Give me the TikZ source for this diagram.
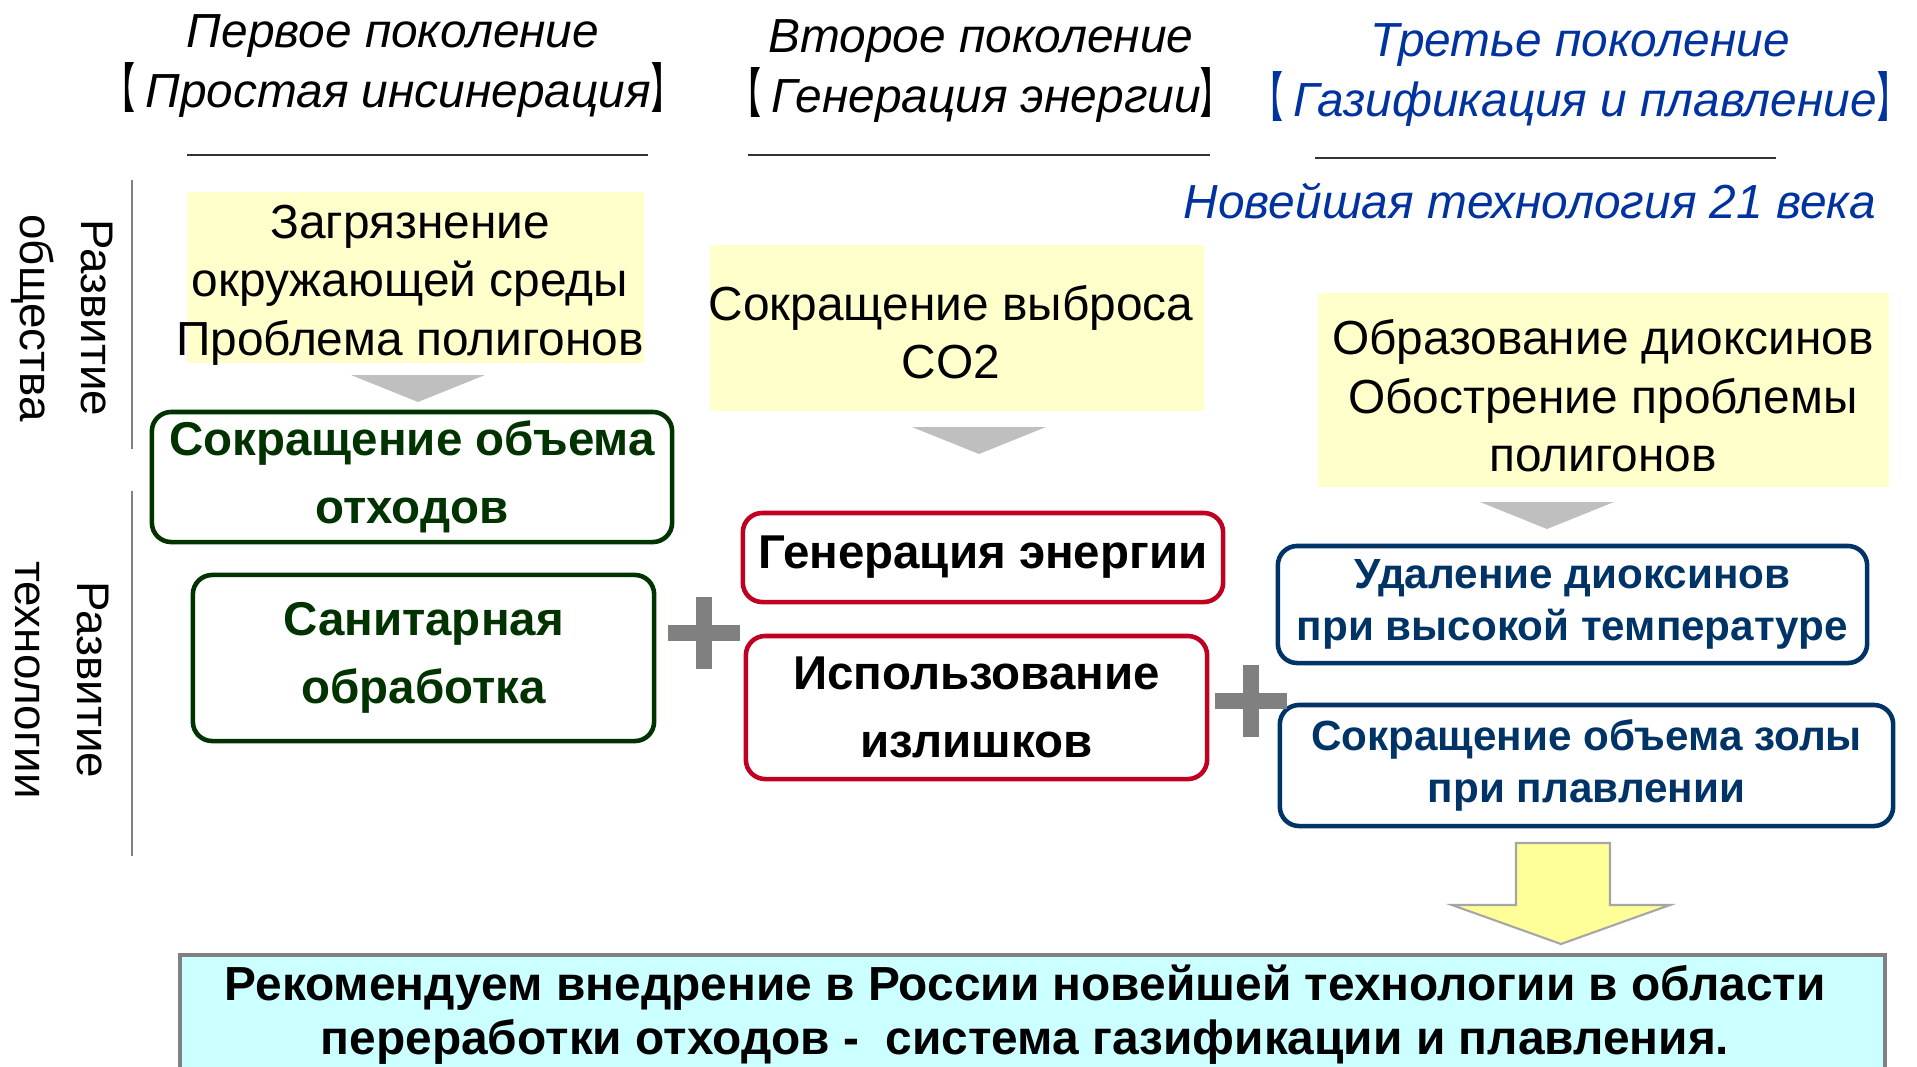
\documentclass[tikz,border=0pt]{standalone}
\usepackage{fontspec}
\usepackage{graphicx}
\setmainfont{Liberation Sans}
\newfontfamily\cjk{Noto Sans CJK SC}
\usetikzlibrary{calc}
\definecolor{paleyellow}{HTML}{FFFFCC}
\definecolor{darkgreen}{HTML}{003300}
\definecolor{darkred}{HTML}{C00020}
\definecolor{navy}{HTML}{003366}
\definecolor{headblue}{HTML}{0033A0}
\definecolor{palecyan}{HTML}{CCFFFF}
\definecolor{tipgray}{HTML}{BFBFBF}
\definecolor{plusgray}{HTML}{808080}
\definecolor{arrowyellow}{HTML}{FFFF99}
\newcommand{\lbr}{\scalebox{0.6}[1.1]{\cjk\bfseries 【}\kern3pt}
\newcommand{\rbr}{\scalebox{0.6}[1.1]{\cjk\bfseries 】}}

\begin{document}
\begin{tikzpicture}[x=0.01cm, y=-0.01cm,
    head/.style={align=center, font=\fontsize{13.6}{16.8}\selectfont\itshape},
    side/.style={rotate=-90, align=center, font=\fontsize{13}{17.4}\selectfont},
    problem/.style={align=center, font=\fontsize{13.6}{16.6}\selectfont},
    yellowbg/.style={fill=paleyellow, inner sep=0pt},
    outcome/.style={draw, rounded corners=5.5pt, line width=1.3pt, inner sep=0pt,
      align=center, font=\bfseries\fontsize{13.5}{19.5}\selectfont},
    greenbox/.style={outcome, draw=darkgreen, text=darkgreen},
    redbox/.style={outcome, draw=darkred, text=black},
    bluebox/.style={outcome, draw=navy, text=navy,
      font=\bfseries\fontsize{12}{14.8}\selectfont},
    downtip/.style={fill=tipgray},
    plussign/.style={draw=plusgray, line width=4.5pt},
    rule/.style={draw=black!80, line width=0.7pt},
    sepline/.style={draw=plusgray, line width=0.6pt}]
  \useasboundingbox (0,0) rectangle (1917,1066);
  \clip (0,0) rectangle (1917,1066);

  % headings of the three generations
  \node[head] (gen1) at (393,66) {Первое поколение\\\lbr Простая инсинерация\rbr};
  \node[head] (gen2) at (981,71) {Второе поколение\\\lbr Генерация энергии\rbr};
  \node[head, text=headblue] (gen3) at (1580,75)
    {Третье поколение\\\lbr Газификация и плавление\rbr};
  \foreach \a/\b/\y in {187/648/155, 748/1210/155, 1315/1776/158}
    \draw[rule] (\a,\y) -- (\b,\y);
  \node[head, text=headblue, anchor=base] (newest) at (1530,218)
    {Новейшая технология 21 века};

  % left labels
  \node[side] (socdev) at (62,318) {Развитие\\общества};
  \node[side] (techdev) at (62,680) {Развитие\\технологии};
  \draw[sepline] (132,180) -- (132,449);
  \draw[sepline] (132,491) -- (132,856);

  % problems of society
  \node[yellowbg, minimum width=4.57cm, minimum height=1.71cm] (bg1) at (415.5,277.5) {};
  \node[problem] (soc1) at (410,285)
    {Загрязнение\\окружающей среды\\Проблема полигонов};
  \node[yellowbg, minimum width=4.94cm, minimum height=1.66cm] (bg2) at (957,328) {};
  \node[problem] (soc2) at (951,332) {Сокращение выброса\\CO2};
  \node[yellowbg, minimum width=5.71cm, minimum height=1.94cm] (bg3) at (1603.5,390) {};
  \node[problem] (soc3) at (1603,396)
    {Образование диоксинов\\Обострение проблемы\\полигонов};

  \foreach \x/\y in {418/375, 979/427, 1547/502}
    \fill[downtip] (\x-67,\y) -- (\x+67,\y) -- (\x,\y+27) -- cycle;

  % answers of technology
  \node[greenbox, minimum width=5.2cm, minimum height=1.3cm] (vol) at (412,477)
    {Сокращение объема\\отходов};
  \node[greenbox, minimum width=4.61cm, minimum height=1.66cm] (san) at (423.5,658)
    {Санитарная\\обработка};
  \node[redbox, minimum width=4.8cm, minimum height=0.89cm] (gen) at (983,557.5)
    {Генерация энергии};
  \node[redbox, minimum width=4.61cm, minimum height=1.43cm] (sur) at (976.5,707.5)
    {Использование\\излишков};
  \node[bluebox, minimum width=5.89cm, minimum height=1.17cm] (dio) at (1572.5,604.5)
    {Удаление диоксинов\\при высокой температуре};
  \node[bluebox, minimum width=6.13cm, minimum height=1.21cm] (ash) at (1586.5,765.5)
    {Сокращение объема золы\\при плавлении};

  \foreach \x/\y in {704/633, 1251/701} {
    \draw[plussign] (\x-36,\y) -- (\x+36,\y);
    \draw[plussign] (\x,\y-36) -- (\x,\y+36);
  }

  % conclusion
  \draw[draw=black!35, line width=0.6pt, fill=arrowyellow]
    (1516,843) -- (1610,843) -- (1610,905) -- (1670,905) -- (1561,944)
    -- (1452,905) -- (1516,905) -- cycle;
  \draw[draw=plusgray, line width=0.9pt, fill=palecyan] (180,955) rectangle (1885,1120);
  \node[align=center, font=\bfseries\fontsize{13.6}{15.4}\selectfont] (rec) at (1025,1015)
    {Рекомендуем внедрение в России новейшей технологии в области\\
     переработки отходов -\ \ система газификации и плавления.};
\end{tikzpicture}
\end{document}
